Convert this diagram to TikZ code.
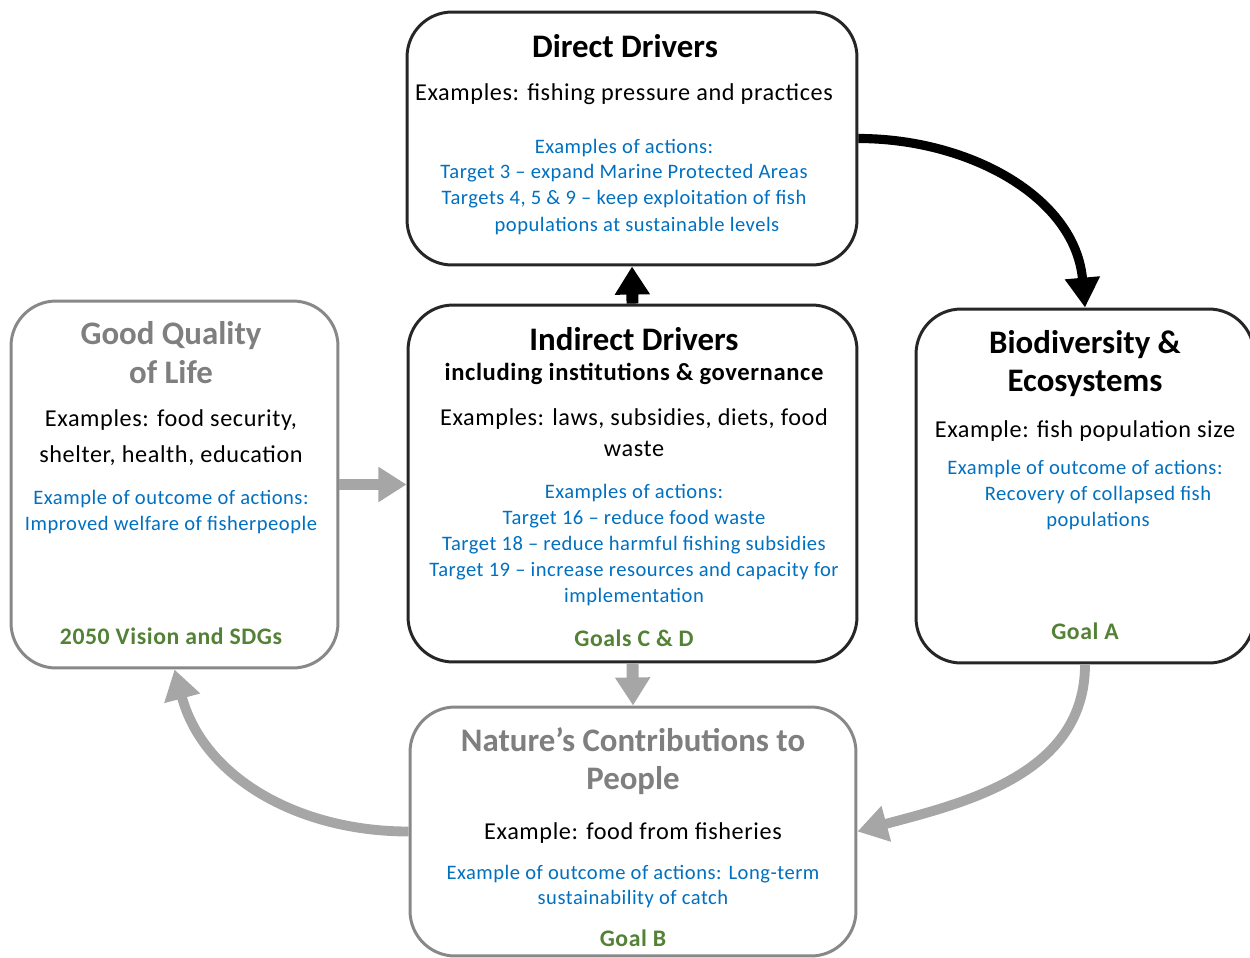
\documentclass[tikz,border=0pt]{standalone}
\usepackage{fontspec}
\setmainfont{Carlito}
\newfontfamily\spacedfont[LetterSpace=2.5]{Carlito}
\usepackage{tikz}
\usepackage{xcolor}
\usetikzlibrary{arrows.meta}

\definecolor{boxblack}{HTML}{262626}
\definecolor{boxgray}{HTML}{888888}
\definecolor{headgray}{HTML}{7F7F7F}
\definecolor{arrowgray}{HTML}{A6A6A6}
\definecolor{actblue}{HTML}{0070C0}
\definecolor{goalgreen}{HTML}{538135}

\tikzset{
  box/.style={rectangle, rounded corners=0.9cm, line width=1.7pt, fill=white, inner sep=0pt},
  blackbox/.style={box, draw=boxblack},
  graybox/.style={box, draw=boxgray},
  headtext/.style={font=\fontsize{18.7}{22}\selectfont\bfseries, align=center, inner sep=0pt},
  subtext/.style={font=\fontsize{14}{17}\spacedfont\bfseries, align=center, inner sep=0pt},
  bodytext/.style={font=\fontsize{13.8}{17.6}\spacedfont, align=center, inner sep=0pt},
  acttext/.style={font=\fontsize{11.7}{14.7}\spacedfont, text=actblue, align=center, inner sep=0pt},
  goaltext/.style={font=\fontsize{13.5}{16}\spacedfont\bfseries, text=goalgreen, inner sep=0pt},
  blkblock/.style={draw=black, line width=6.8pt, -{Triangle[length=16pt, width=19pt]}},
  grayblock/.style={draw=arrowgray, line width=6.8pt, -{Triangle[length=16pt, width=19pt]}},
  blkbend/.style={draw=black, line width=5.2pt, -{Triangle[length=17pt, width=19pt]}},
  graybend/.style={draw=arrowgray, line width=5.6pt, -{Triangle[length=17pt, width=20pt]}}
}

\begin{document}
\begin{tikzpicture}[x=0.02cm, y=-0.02cm]
    \useasboundingbox (0,0) rectangle (1250,957);
    % boxes
    \node[blackbox, minimum width=9cm, minimum height=5.06cm] (dd) at (632,138.5) {};
    \node[blackbox, minimum width=8.98cm, minimum height=7.14cm] (ind) at (632.5,483.5) {};
    \node[graybox, minimum width=6.54cm, minimum height=7.34cm] (gql) at (174.5,484.5) {};
    \node[blackbox, minimum width=6.76cm, minimum height=7.08cm] (bio) at (1085,486) {};
    \node[graybox, minimum width=8.92cm, minimum height=4.98cm] (ncp) at (633,831.5) {};

    % direct drivers
    \node[headtext] (dd-head) at (625,46) {Direct Drivers};
    \node[bodytext] (dd-ex) at (624,94) {Examples: fishing pressure and practices};
    \node[acttext] (dd-act) at (624,173.5) {Examples of actions:\\Target 3 – expand Marine Protected Areas\\Targets 4, 5 \& 9 – keep exploitation of fish};
    \node[acttext] (dd-act2) at (637,226) {populations at sustainable levels};

    % indirect drivers
    \node[headtext] (ind-head) at (634,339) {Indirect Drivers};
    \node[subtext] (ind-sub) at (634,374) {including institutions \& governance};
    \node[bodytext] (ind-ex) at (634,432.5) {Examples: laws, subsidies, diets, food\\waste};
    \node[acttext] (ind-act) at (634,545) {Examples of actions:\\Target 16 – reduce food waste\\Target 18 – reduce harmful fishing subsidies\\Target 19 – increase resources and capacity for\\implementation};
    \node[goaltext] (ind-goal) at (634,638) {Goals C \& D};

    % good quality of life
    \node[headtext, text=headgray] (gql-head) at (171,352.5) {Good Quality\\of Life};
    \node[bodytext] (gql-ex) at (171,438) {Examples: food security,\\[3pt]shelter, health, education};
    \node[acttext] (gql-act) at (171,512) {Example of outcome of actions:\\Improved welfare of fisherpeople};
    \node[goaltext] (gql-goal) at (171,636) {2050 Vision and SDGs};

    % biodiversity
    \node[headtext] (bio-head) at (1085,363.5) {Biodiversity \&\\Ecosystems};
    \node[bodytext] (bio-ex) at (1085,431) {Example: fish population size};
    \node[acttext] (bio-act) at (1085,469) {Example of outcome of actions:};
    \node[acttext] (bio-act2) at (1098,508) {Recovery of collapsed fish\\populations};
    \node[goaltext] (bio-goal) at (1085,631) {Goal A};

    % nature's contributions
    \node[headtext, text=headgray] (ncp-head) at (633,761) {Nature’s Contributions to\\People};
    \node[bodytext] (ncp-ex) at (633,833) {Example: food from fisheries};
    \node[acttext] (ncp-act) at (633,886.5) {Example of outcome of actions: Long-term\\sustainability of catch};
    \node[goaltext] (ncp-goal) at (633,938) {Goal B};

    % arrows
    \draw[blkbend] (dd.east) to[out=0,in=95] (bio.north);
    \draw[blkblock] (ind.north) -- (dd.south);
    \draw[grayblock] (gql.east) -- (gql.east -| ind.west);
    \draw[grayblock] (ind.south) -- (ncp.north);
    \draw[graybend] (bio.south) to[out=-90,in=15] (ncp.east);
    \draw[graybend] (ncp.west) to[out=180,in=-75] (gql.south);
\end{tikzpicture}
\end{document}
